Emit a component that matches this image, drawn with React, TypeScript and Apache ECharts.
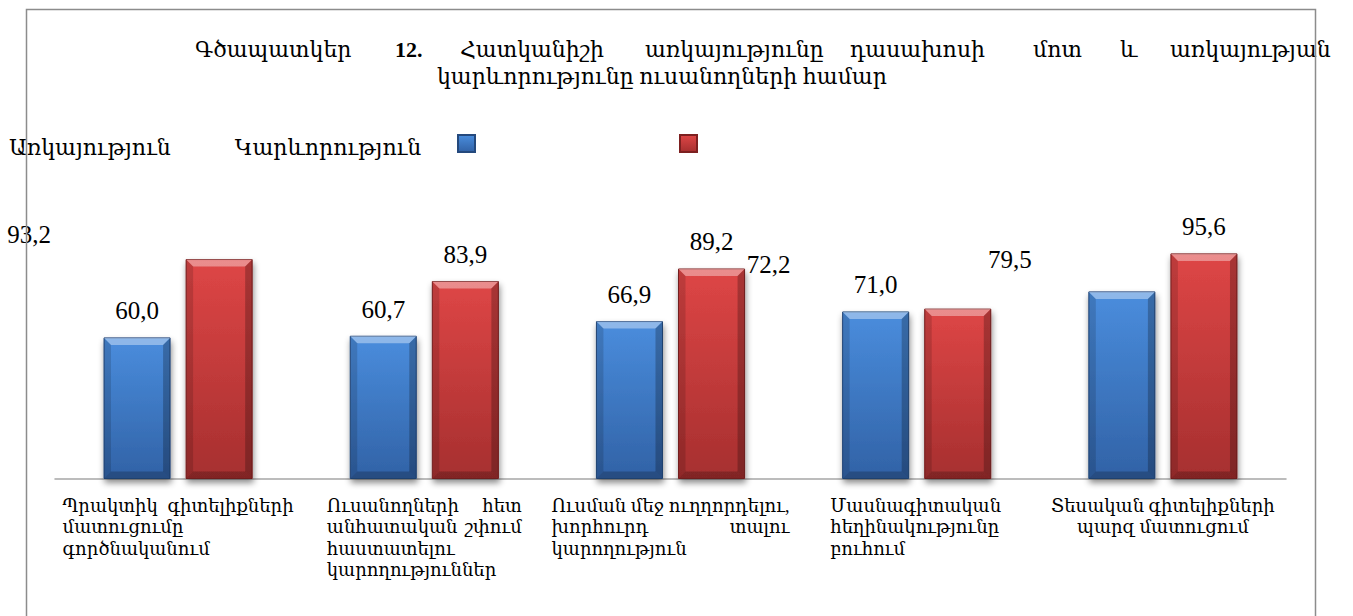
import React, { useEffect, useRef } from "react";
import * as echarts from "echarts";

// ---------- data ----------
const titleLine1Words = ["Գծապատկեր", "12.", "Հատկանիշի", "առկայությունը", "դասախոսի", "մոտ", "և", "առկայության"];
const titleLine2 = "կարևորությունը ուսանողների համար";
const seriesNames = ["Առկայություն", "Կարևորություն"];
const categories = [
  "Պրակտիկ գիտելիքների\nմատուցումը\nգործնականում",
  "Ուսանողների հետ\nանհատական շփում\nհաստատելու\nկարողություններ",
  "Ուսման մեջ ուղղորդելու,\nխորհուրդ տալու\nկարողություն",
  "Մասնագիտական\nհեղինակությունը\nբուհում",
  "Տեսական գիտելիքների\nպարզ մատուցում",
];
const presenceValues = [60.0, 60.7, 66.9, 71.0, 79.5];
const importanceValues = [93.2, 83.9, 89.2, 72.2, 95.6];

// ---------- styles / layout ----------
const FONT = "'Liberation Serif', 'DejaVu Serif', serif";
const TITLE_WORD_WIDTHS = [200, 65, 185, 205, 183, 87, 50];
const CAT_BLOCK_WIDTHS = [231, 195, 238, 173];
const BAR_W = 0.2724;
const BAR_GAP = 0.224;
const presenceLabelShift: Record<number, number[]> = { 4: [-112, -5] };
const importanceLabelShift: Record<number, number[]> = { 0: [-190, 2], 3: [-189, -18] };

const fmt = (v: number) => v.toFixed(1).replace(".", ",");

const CAT_FONT = 18;
const tokenBase = { fontFamily: FONT, fontSize: CAT_FONT, color: "#000", lineHeight: 21.5 };

function buildCategoryRich() {
  const rich: Record<string, any> = {
    C: { ...tokenBase, align: "center" },
    l: { ...tokenBase, align: "left" },
    r: { ...tokenBase, align: "right" },
  };
  CAT_BLOCK_WIDTHS.forEach((w, i) => {
    rich["P" + i] = { ...tokenBase, width: w, align: "left" };
  });
  return rich;
}

function formatCategory(value: string, index: number) {
  const lines = value.split("\n");
  if (index >= CAT_BLOCK_WIDTHS.length) {
    return lines.map((l) => `{C|${l}}`).join("\n");
  }
  return lines
    .map((l, k) => {
      const words = l.split(" ");
      if (k < lines.length - 1 && words.length > 1) {
        const last = words.pop();
        return `{l|${words.join(" ")} }{r|${last}}`;
      }
      return `{P${index}|${l}}`;
    })
    .join("\n");
}

const TITLE_FONT = 22;
function buildTitleRich() {
  const rich: Record<string, any> = {};
  titleLine1Words.forEach((_, i) => {
    rich["t" + i] = {
      fontFamily: FONT,
      fontSize: TITLE_FONT,
      color: "#000",
      lineHeight: 26,
      align: "left",
      fontWeight: i === 1 ? "bold" : "normal",
      width: TITLE_WORD_WIDTHS[i],
    };
  });
  return rich;
}

export default function App() {
  const ref = useRef<HTMLDivElement>(null);
  useEffect(() => {
    if (!ref.current) return;
    const chart = echarts.init(ref.current, undefined, { renderer: "svg" });
    const blueGrad = new echarts.graphic.LinearGradient(0, 0, 0, 1, [
      { offset: 0, color: "#4a8ddd" },
      { offset: 1, color: "#3162a6" },
    ]);
    const redGrad = new echarts.graphic.LinearGradient(0, 0, 0, 1, [
      { offset: 0, color: "#de4646" },
      { offset: 1, color: "#a62f2f" },
    ]);
    const labelBase = {
      show: true,
      position: "top",
      distance: 14,
      fontFamily: "'Liberation Serif', serif",
      fontSize: 25,
      color: "#000",
      formatter: (p: any) => fmt(p.value),
    };
    const option: any = {
      animation: false,
      backgroundColor: "#ffffff",
      textStyle: { fontFamily: FONT },
      title: [
        {
          left: 195,
          top: 36,
          padding: 0,
          text: titleLine1Words.map((w, i) => `{t${i}|${w}}`).join(""),
          textStyle: { rich: buildTitleRich(), fontFamily: FONT, fontSize: TITLE_FONT, color: "#000", fontWeight: "normal", lineHeight: 26 },
        },
        {
          left: 437,
          top: 63,
          padding: 0,
          text: titleLine2,
          textStyle: { fontFamily: FONT, fontSize: TITLE_FONT, color: "#000", fontWeight: "normal", lineHeight: 26 },
        },
      ],
      legend: [
        {
          left: 3,
          top: 135,
          padding: 0,
          itemWidth: 0,
          itemHeight: 0,
          itemGap: 58,
          selectedMode: false,
          data: seriesNames,
          itemStyle: { opacity: 0 },
          textStyle: { fontFamily: FONT, fontSize: 22, color: "#000", lineHeight: 24 },
        },
        {
          left: 457,
          top: 134,
          padding: 0,
          itemWidth: 17,
          itemHeight: 17,
          itemGap: 203,
          icon: "rect",
          selectedMode: false,
          data: seriesNames,
          formatter: () => "",
          textStyle: { fontSize: 1 },
        },
      ],
      grid: { left: 55, right: 67, top: 243, bottom: 137 },
      xAxis: {
        type: "category",
        data: categories,
        axisLine: { lineStyle: { color: "#a6a6a6", width: 1.5 } },
        axisTick: { show: false },
        axisLabel: {
          interval: 0,
          margin: 16,
          formatter: formatCategory,
          rich: buildCategoryRich(),
          fontFamily: FONT,
          fontSize: CAT_FONT,
          lineHeight: 21.5,
          color: "#000",
        },
      },
      yAxis: { type: "value", min: 0, max: 100, show: false },
      series: [
        {
          name: seriesNames[0],
          type: "bar",
          barWidth: BAR_W * 100 + "%",
          barGap: BAR_GAP * 100 + "%",
          data: presenceValues.map((v, i) => ({
            value: v,
            label: presenceLabelShift[i] ? { offset: presenceLabelShift[i] } : undefined,
          })),
          itemStyle: {
            color: blueGrad,
            borderColor: "#24497d",
            borderWidth: 1,
            shadowBlur: 6,
            shadowOffsetX: 1,
            shadowOffsetY: 4,
            shadowColor: "rgba(0,0,0,0.45)",
          },
          label: labelBase,
        },
        {
          name: seriesNames[1],
          type: "bar",
          barWidth: BAR_W * 100 + "%",
          barGap: BAR_GAP * 100 + "%",
          data: importanceValues.map((v, i) => ({
            value: v,
            label: importanceLabelShift[i] ? { offset: importanceLabelShift[i] } : undefined,
          })),
          itemStyle: {
            color: redGrad,
            borderColor: "#7d2020",
            borderWidth: 1,
            shadowBlur: 6,
            shadowOffsetX: 1,
            shadowOffsetY: 4,
            shadowColor: "rgba(0,0,0,0.45)",
          },
          label: labelBase,
        },
        {
          name: "bevel",
          type: "custom",
          silent: true,
          z: 5,
          data: categories.map((_, i) => [i, presenceValues[i], importanceValues[i]]),
          encode: { x: 0, y: [1, 2] },
          renderItem: (params: any, api: any) => {
            const idx = api.value(0);
            const base = api.coord([idx, 0]);
            const band = api.size([1, 0])[0];
            const bw = band * BAR_W;
            const gap = bw * BAR_GAP;
            const children: any[] = [];
            [1, 2].forEach((dim, k) => {
              const top = api.coord([idx, api.value(dim)]);
              const x0 = base[0] - gap / 2 - bw + k * (bw + gap) + 0.5;
              const x1 = x0 + bw - 1;
              const y0 = top[1] + 0.5;
              const y1 = base[1] - 0.5;
              const b = 7;
              children.push({
                type: "polygon",
                shape: { points: [[x0, y0], [x1, y0], [x1 - b, y0 + b], [x0 + b, y0 + b]] },
                style: { fill: "rgba(255,255,255,0.38)" },
              });
              children.push({
                type: "polygon",
                shape: { points: [[x0, y0], [x0 + b, y0 + b], [x0 + b, y1 - b], [x0, y1]] },
                style: { fill: "rgba(0,0,0,0.14)" },
              });
              children.push({
                type: "polygon",
                shape: { points: [[x1, y0], [x1 - b, y0 + b], [x1 - b, y1 - b], [x1, y1]] },
                style: { fill: "rgba(0,0,0,0.24)" },
              });
              children.push({
                type: "polygon",
                shape: { points: [[x0, y1], [x0 + b, y1 - b], [x1 - b, y1 - b], [x1, y1]] },
                style: { fill: "rgba(0,0,0,0.22)" },
              });
            });
            return { type: "group", children };
          },
        },
      ],
      graphic: [
        {
          type: "rect",
          silent: true,
          z: 100,
          shape: { x: 26.5, y: 9.5, width: 1289, height: 660 },
          style: { fill: "none", stroke: "#8c8c8c", lineWidth: 1.5 },
        },
      ],
    };
    chart.setOption(option);
    return () => chart.dispose();
  }, []);
  return <div ref={ref} style={{ position: "absolute", left: 0, top: 0, width: 1353, height: 616 }} />;
}
